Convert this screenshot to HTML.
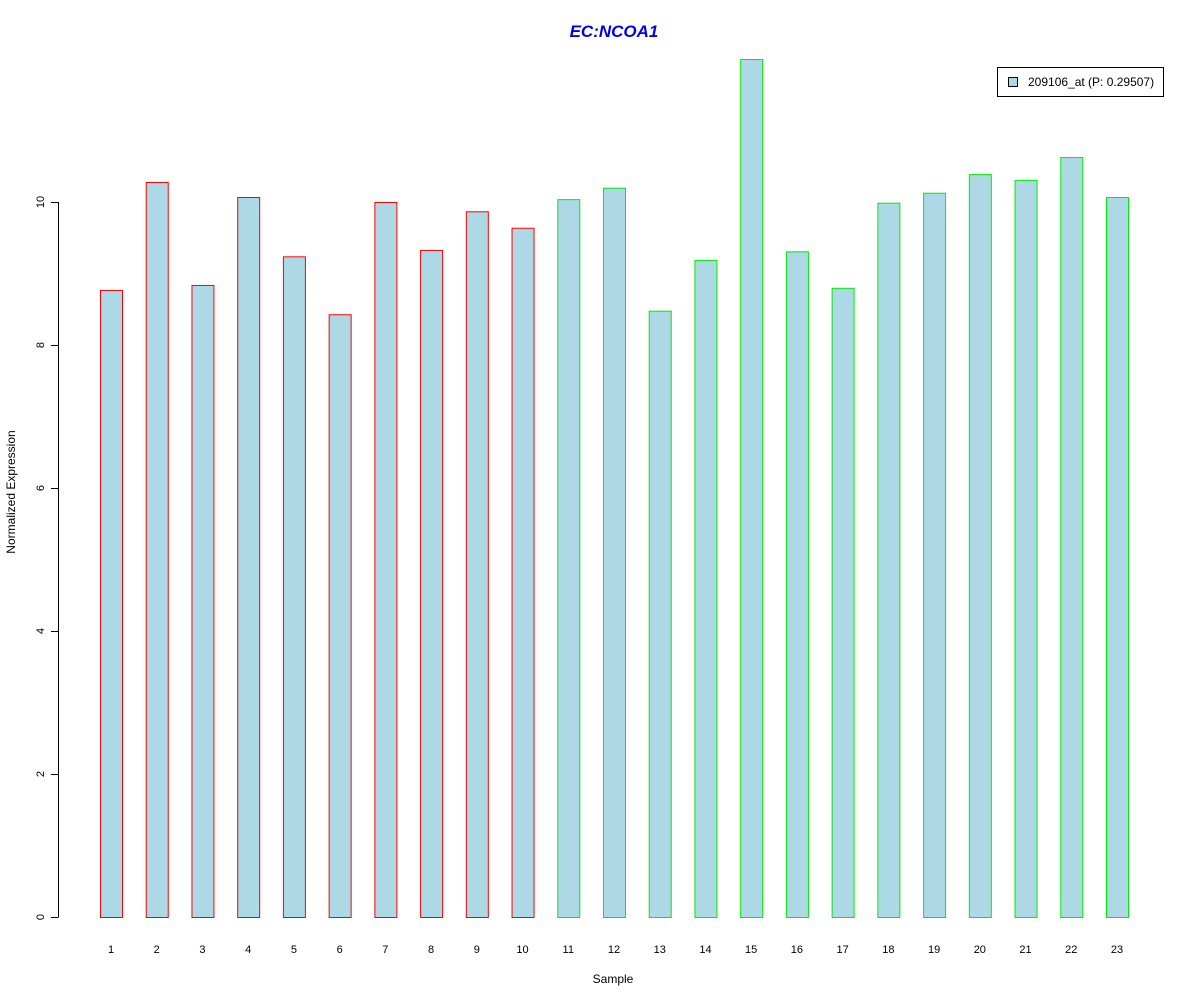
<!DOCTYPE html>
<html><head><meta charset="utf-8"><style>
body{margin:0;background:#fff;}
svg{display:block;font-family:"Liberation Sans",Arial,sans-serif;}
</style></head><body>
<svg id="chart" width="1200" height="1000" xmlns="http://www.w3.org/2000/svg">
<text x="614" y="37" text-anchor="middle" font-size="17" font-weight="bold" font-style="italic" fill="#0000ee">EC:NCOA1</text>
<g id="yaxis"></g>
<g id="bars"></g>
<g id="xlabels"></g>
<text x="613" y="983" text-anchor="middle" font-size="12">Sample</text>
<text transform="translate(15,492) rotate(-90)" text-anchor="middle" font-size="12">Normalized Expression</text>
<g>
<rect x="997.5" y="67.5" width="166" height="29" fill="#fff" stroke="#000"/>
<rect x="1008.5" y="77.5" width="9" height="9" fill="#add8e6" stroke="#000"/>
<text x="1028" y="86" font-size="12">209106_at (P: 0.29507)</text>
</g>
</svg>
<script>
const categories=["1","2","3","4","5","6","7","8","9","10","11","12","13","14","15","16","17","18","19","20","21","22","23"];
const values=[8.77,10.28,8.84,10.07,9.24,8.43,10.0,9.33,9.87,9.64,10.04,10.20,8.48,9.19,12.0,9.31,8.80,9.99,10.13,10.39,10.31,10.63,10.07];
const groups=["r","r","r","r","r","r","r","r","r","r","g","g","g","g","g","g","g","g","g","g","g","g","g"];
const yTicks=[0,2,4,6,8,10];
const NS="http://www.w3.org/2000/svg";
const y=v=>917-v*71.5;
const x=i=>111+i*(1117-111)/22;
function mk(t,a,p){const e=document.createElementNS(NS,t);for(const k in a)e.setAttribute(k,a[k]);p.appendChild(e);return e;}
const ya=document.getElementById('yaxis');
mk('line',{x1:58.5,x2:58.5,y1:y(0),y2:y(10),stroke:'#000'},ya);
yTicks.forEach(t=>{
  const l=mk('line',{x1:51,x2:58.5,y1:y(t)+0.5,y2:y(t)+0.5,stroke:'#000'},ya);
  
  
  const tx=mk('text',{transform:`translate(44,${y(t)}) rotate(-90)`,'text-anchor':'middle','font-size':11},ya);
  
  
  tx.textContent=t;
});
const bg=document.getElementById('bars'),xl=document.getElementById('xlabels');
values.forEach((v,i)=>{
  const r=mk('rect',{x:x(i)-11+0.5,y:y(v)+0.5,width:22,height:y(0)-y(v),fill:'#add8e6',stroke:groups[i]==='r'?'#ff0000':'#00ee00'},bg);
  
  
  const t=mk('text',{x:x(i),y:953,'text-anchor':'middle','font-size':11},xl);
  
  
  t.textContent=categories[i];
});
</script>
</body></html>
